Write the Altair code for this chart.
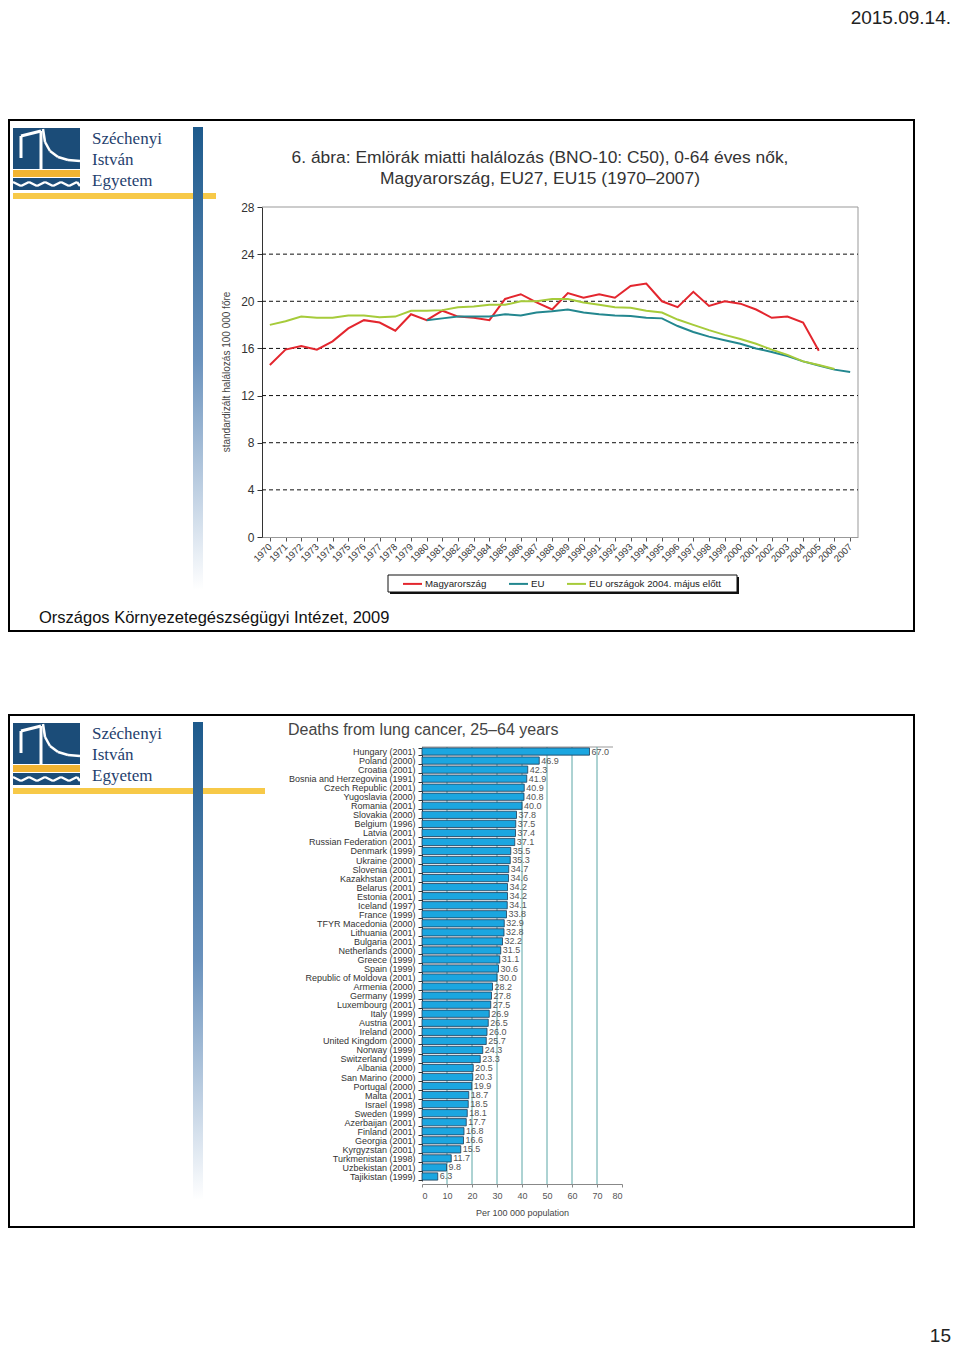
import altair as alt
import pandas as pd

# ---------------- data: line chart (breast cancer mortality) ----------------
hu_years = list(range(1970, 2006))
hu_vals = [14.6, 15.9, 16.2, 15.9, 16.6, 17.7, 18.4, 18.2, 17.5, 18.9,
           18.4, 19.2, 18.7, 18.6, 18.4, 20.2, 20.6, 19.9, 19.3, 20.7,
           20.3, 20.6, 20.3, 21.3, 21.5, 20.0, 19.5, 20.8, 19.6, 20.0,
           19.8, 19.3, 18.6, 18.7, 18.2, 15.8]
eu_years = list(range(1980, 2008))
eu_vals = [18.4, 18.55, 18.7, 18.7, 18.7, 18.9, 18.8, 19.05, 19.15, 19.3,
           19.05, 18.9, 18.8, 18.75, 18.6, 18.55, 17.9, 17.4, 17.0, 16.7,
           16.4, 16.0, 15.7, 15.35, 14.9, 14.55, 14.2, 14.0]
eu15_years = list(range(1970, 2007))
eu15_vals = [18.0, 18.3, 18.7, 18.6, 18.6, 18.8, 18.8, 18.65, 18.7, 19.2,
             19.2, 19.25, 19.5, 19.55, 19.7, 19.7, 20.0, 20.0, 20.2, 20.2,
             19.9, 19.7, 19.5, 19.45, 19.2, 19.05, 18.45, 18.0, 17.55, 17.15,
             16.8, 16.4, 15.9, 15.45, 14.9, 14.6, 14.25]
series_names = ["Magyarország", "EU", "EU országok 2004. május előtt"]
series_colors = ["#e3262e", "#23878f", "#a6cb3a"]
x_years = list(range(1970, 2008))
y_ticks = [0, 4, 8, 12, 16, 20, 24, 28]
y_grid = [4, 8, 12, 16, 20, 24]

# ---------------- data: bar chart (lung cancer deaths) ----------------
countries = [
    "Hungary (2001)", "Poland (2000)", "Croatia (2001)", "Bosnia and Herzegovina (1991)",
    "Czech Republic (2001)", "Yugoslavia (2000)", "Romania (2001)", "Slovakia (2000)",
    "Belgium (1996)", "Latvia (2001)", "Russian Federation (2001)", "Denmark (1999)",
    "Ukraine (2000)", "Slovenia (2001)", "Kazakhstan (2001)", "Belarus (2001)",
    "Estonia (2001)", "Iceland (1997)", "France (1999)", "TFYR Macedonia (2000)",
    "Lithuania (2001)", "Bulgaria (2001)", "Netherlands (2000)", "Greece (1999)",
    "Spain (1999)", "Republic of Moldova (2001)", "Armenia (2000)", "Germany (1999)",
    "Luxembourg (2001)", "Italy (1999)", "Austria (2001)", "Ireland (2000)",
    "United Kingdom (2000)", "Norway (1999)", "Switzerland (1999)", "Albania (2000)",
    "San Marino (2000)", "Portugal (2000)", "Malta (2001)", "Israel (1998)",
    "Sweden (1999)", "Azerbaijan (2001)", "Finland (2001)", "Georgia (2001)",
    "Kyrgyzstan (2001)", "Turkmenistan (1998)", "Uzbekistan (2001)", "Tajikistan (1999)",
]
rates = [67.0, 46.9, 42.3, 41.9, 40.9, 40.8, 40.0, 37.8,
         37.5, 37.4, 37.1, 35.5, 35.3, 34.7, 34.6, 34.2,
         34.2, 34.1, 33.8, 32.9, 32.8, 32.2, 31.5, 31.1,
         30.6, 30.0, 28.2, 27.8, 27.5, 26.9, 26.5, 26.0,
         25.7, 24.3, 23.3, 20.5, 20.3, 19.9, 18.7, 18.5,
         18.1, 17.7, 16.8, 16.6, 15.5, 11.7, 9.8, 6.3]
bar_ticks = [0, 10, 20, 30, 40, 50, 60, 70, 80]
bar_grid = [10, 20, 30, 40, 50, 60, 70]

NARROW = "'Liberation Sans Narrow', 'Arial Narrow', 'Liberation Sans', sans-serif"
SANS = "'Liberation Sans', Arial, sans-serif"
SERIF = "'Liberation Serif', 'Times New Roman', serif"
W, H = 944, 1339

one = pd.DataFrame({"d": [0]})


def P(v):
    return v - 8


def rect(x, x2, y, y2, **kw):
    return alt.Chart(one).mark_rect(**kw).encode(
        x=alt.value(P(x)), x2=alt.value(P(x2)), y=alt.value(P(y)), y2=alt.value(P(y2)))


def seg(x, y, x2, y2, **kw):
    return alt.Chart(one).mark_rule(**kw).encode(
        x=alt.value(P(x)), y=alt.value(P(y)), x2=alt.value(P(x2)), y2=alt.value(P(y2)))


def txt(x, y, s, **kw):
    return alt.Chart(one).mark_text(**kw).encode(
        x=alt.value(P(x)), y=alt.value(P(y)), text=alt.value(s))


blue_grad = alt.Gradient(
    gradient="linear",
    stops=[alt.GradientStop(offset=0, color="#1d5a8c"),
           alt.GradientStop(offset=0.5, color="#6a92bd"),
           alt.GradientStop(offset=1, color="#ffffff")],
    x1=0, x2=0, y1=0, y2=1)


def decoration(top, bottom, ybar_right, vbar_bottom):
    L = []
    L.append(rect(9, 914, top, bottom, fillOpacity=0, stroke="black", strokeWidth=2))
    # logo
    L.append(rect(13, 80, top + 8, top + 49, color="#1b4c78"))
    L.append(rect(13, 80, top + 50, top + 57, color="#f2b431"))
    L.append(rect(13, 80, top + 58, top + 70, color="#1b4c78"))
    wx = [13, 21, 29, 37, 45, 53, 61, 69, 77, 80]
    for i in range(len(wx) - 1):
        ya = top + 62 if i % 2 == 0 else top + 66
        yb = top + 66 if i % 2 == 0 else top + 62
        L.append(seg(wx[i], ya, wx[i + 1], yb, color="white", strokeWidth=2.5))
    L.append(seg(21, top + 16, 21, top + 38, color="white", strokeWidth=3))
    L.append(seg(21, top + 16, 41, top + 11, color="white", strokeWidth=3))
    L.append(seg(41, top + 11, 41, top + 49, color="white", strokeWidth=3))
    cv = [(43, top + 9), (45, top + 22), (50, top + 31), (58, top + 37), (68, top + 40), (80, top + 41)]
    for a, b in zip(cv[:-1], cv[1:]):
        L.append(seg(a[0], a[1], b[0], b[1], color="white", strokeWidth=2.5))
    for i, w in enumerate(["Széchenyi", "István", "Egyetem"]):
        L.append(txt(92, top + 24 + 21 * i, w, align="left", baseline="alphabetic",
                     font=SERIF, fontSize=17, color="#1f3f6e"))
    L.append(rect(13, ybar_right, top + 73, top + 79, color="#f7c948"))
    L.append(rect(193, 203, top + 7, vbar_bottom, color=blue_grad))
    return L


layers = []
layers.append(txt(951, 14, "2015.09.14.", align="right", baseline="middle",
                  font=SANS, fontSize=19, color="#222", dy=4))
layers.append(txt(951, 1342, "15", align="right", baseline="alphabetic",
                  font=SANS, fontSize=19, color="#222"))
layers += decoration(120, 631, 216, 590)
layers += decoration(715, 1227, 265, 1200)

# ---------- line chart texts / frame ----------
layers.append(txt(540, 163, "6. ábra: Emlörák miatti halálozás (BNO-10: C50), 0-64 éves nők,",
                  align="center", baseline="alphabetic", font=SANS, fontSize=17.4, color="#333"))
layers.append(txt(540, 184, "Magyarország, EU27, EU15 (1970–2007)",
                  align="center", baseline="alphabetic", font=SANS, fontSize=17.4, color="#333"))
layers.append(txt(227, 372, "standardizált halálozás 100 000 főre", angle=270,
                  align="center", baseline="middle", font=NARROW, fontSize=10, color="#444"))
layers.append(txt(39, 623, "Országos Környezetegészségügyi Intézet, 2009",
                  align="left", baseline="alphabetic", font=SANS, fontSize=16.5, color="#111"))
layers.append(rect(390, 739, 577, 594, color="#111"))
layers.append(rect(388, 737, 575, 592, fill="white", stroke="#111", strokeWidth=1))
layers.append(seg(262, 207, 858, 207, color="#999", strokeWidth=1))
layers.append(seg(858, 207, 858, 537, color="#999", strokeWidth=1))

# ---------- bar chart texts / frame ----------
layers.append(txt(288, 735, "Deaths from lung cancer, 25–64 years", align="left",
                  baseline="alphabetic", font=SANS, fontSize=16, color="#444"))
layers.append(seg(422, 747, 613, 747, color="#999", strokeWidth=1))

# ---------- line chart ----------
rows = []
for yrs, vals, name in [(hu_years, hu_vals, series_names[0]),
                        (eu_years, eu_vals, series_names[1]),
                        (eu15_years, eu15_vals, series_names[2])]:
    for yr, v in zip(yrs, vals):
        rows.append({"year": yr, "value": v, "series": name})
line_df = pd.DataFrame(rows)

lx = alt.Scale(domain=[1969.5, 2007.5], range=[P(262), P(858)], nice=False, zero=False)
ly = alt.Scale(domain=[0, 28], range=[P(537), P(207)], nice=False, zero=False)

lx_axis = alt.Axis(orient="bottom", offset=P(537) - H, values=x_years, format="d",
                   labelAngle=315, labelAlign="right", labelBaseline="middle",
                   labelFont=NARROW, labelFontSize=9.5, labelColor="#333",
                   labelPadding=4, tickSize=4, tickColor="#555", domainColor="#999",
                   labelOverlap=False, grid=False, title=None)
ly_axis = alt.Axis(orient="left", offset=-P(262), values=y_ticks,
                   labelFont=NARROW, labelFontSize=12, labelColor="#333",
                   labelPadding=3, tickSize=5, tickColor="#333", domainColor="#333",
                   grid=False, title=None)

grid_df = pd.DataFrame({"value": y_grid})
grid_rules = alt.Chart(grid_df).mark_rule(color="#111", strokeDash=[4, 3], strokeWidth=1).encode(
    y=alt.Y("value:Q", scale=ly, axis=ly_axis),
    x=alt.value(P(262)), x2=alt.value(P(858)))

lines = alt.Chart(line_df).mark_line(strokeWidth=2).encode(
    x=alt.X("year:Q", scale=lx, axis=lx_axis),
    y=alt.Y("value:Q", scale=ly, axis=ly_axis),
    color=alt.Color("series:N",
                    scale=alt.Scale(domain=series_names, range=series_colors),
                    legend=alt.Legend(orient="none", legendX=P(402), legendY=P(573),
                                      direction="horizontal", title=None,
                                      symbolType="stroke", symbolSize=361,
                                      symbolStrokeWidth=2, labelFont=NARROW,
                                      labelFontSize=9.7, labelColor="#222",
                                      labelOffset=2, columnPadding=18, padding=0,
                                      labelLimit=400)),
    order=alt.Order("year:Q"))

line_chart = alt.layer(grid_rules, lines)

# ---------- bar chart ----------
bar_df = pd.DataFrame({"country": countries, "rate": rates})
bx = alt.Scale(domain=[0, 80], range=[P(422), P(622)], nice=False, zero=True)
by = alt.Scale(domain=countries, range=[P(747), P(1181)], paddingInner=0.2, paddingOuter=0.1)

bx_axis = alt.Axis(orient="bottom", offset=P(1184) - H, values=bar_ticks,
                   labelFont=SANS, labelFontSize=9, labelColor="#555",
                   labelPadding=4, tickSize=3, tickColor="#888", domainColor="#888",
                   grid=False, title="Per 100 000 population", titleFont=SANS,
                   titleFontSize=9, titleFontWeight="normal", titleColor="#444",
                   titlePadding=8)
by_axis = alt.Axis(orient="left", offset=-P(422), labelFont=SANS, labelFontSize=9,
                   labelColor="#333", labelPadding=3, tickSize=4, tickColor="#333",
                   domainColor="#333", tickBand="extent", labelLimit=400,
                   grid=False, title=None)

bgrid = alt.Chart(pd.DataFrame({"rate": bar_grid})).mark_rule(color="#5aa6a6", strokeWidth=1).encode(
    x=alt.X("rate:Q", scale=bx, axis=bx_axis),
    y=alt.value(P(747)), y2=alt.value(P(1184)))

bars = alt.Chart(bar_df).mark_bar(color="#1ba6e0", stroke="#1f3b57", strokeWidth=0.8).encode(
    x=alt.X("rate:Q", scale=bx, axis=bx_axis),
    y=alt.Y("country:N", sort=None, scale=by, axis=by_axis))

bar_text = alt.Chart(bar_df).mark_text(align="left", baseline="middle", dx=2, font=SANS,
                                       fontSize=9, color="#555").encode(
    x=alt.X("rate:Q", scale=bx, axis=bx_axis),
    y=alt.Y("country:N", sort=None, scale=by, axis=by_axis),
    text=alt.Text("rate:Q", format=".1f"))

bar_chart = alt.layer(bgrid, bars, bar_text)

chart = alt.layer(*layers, line_chart, bar_chart).resolve_scale(
    x="independent", y="independent"
).properties(
    width=W, height=H, padding=0, autosize=alt.AutoSizeParams(type="none"),
    background="white"
).configure_view(stroke=None)

chart.save("out.html", embed_options={"renderer": "svg", "actions": False})
